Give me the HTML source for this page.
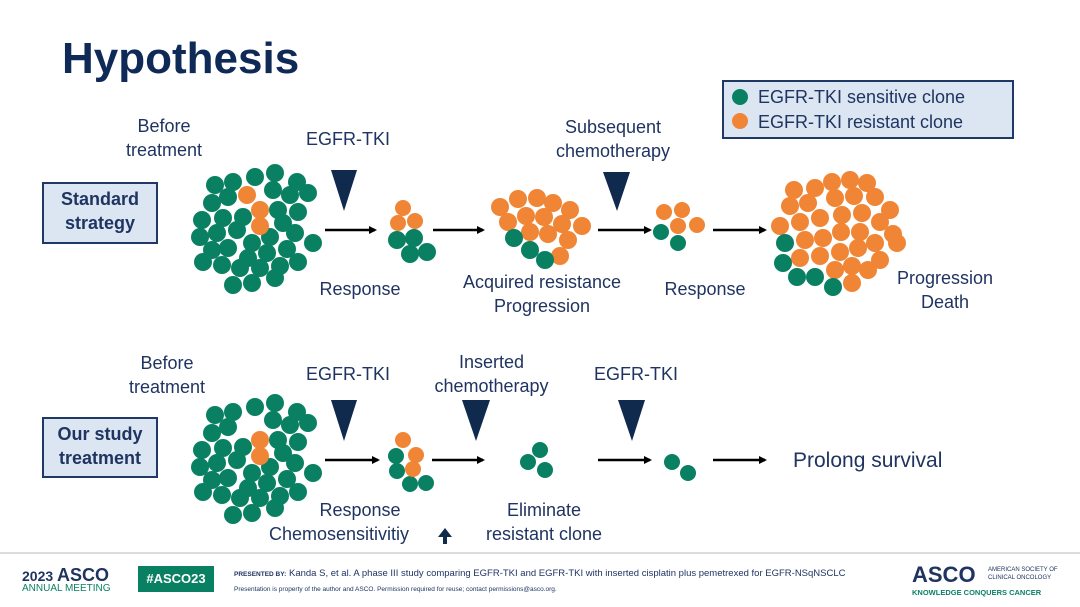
<!DOCTYPE html>
<html><head><meta charset="utf-8"><style>
body{margin:0;width:1080px;height:607px;background:#fff;overflow:hidden;position:relative;font-family:"Liberation Sans",Arial,sans-serif;color:#1f3461}
.t{position:absolute;font-size:18px;text-align:center;white-space:nowrap;line-height:24px}
.box{position:absolute;background:#dce6f2;border:2px solid #1f3864;font-weight:bold;font-size:18px;text-align:center;line-height:24px;color:#1f3461}
</style></head><body>
<div style="position:absolute;left:62px;top:34px;font-size:44px;font-weight:bold;color:#0f2a57">Hypothesis</div>

<div class="box" style="left:42px;top:182px;width:112px;height:55px;padding-top:3px">Standard<br>strategy</div>
<div class="box" style="left:42px;top:417px;width:112px;height:54px;padding-top:3px">Our study<br>treatment</div>

<div style="position:absolute;left:722px;top:80px;width:288px;height:55px;background:#dce6f2;border:2px solid #1f3864"></div>
<div class="t" style="left:758px;top:85px;text-align:left">EGFR-TKI sensitive clone</div>
<div class="t" style="left:758px;top:110px;text-align:left">EGFR-TKI resistant clone</div>

<div class="t" style="left:114px;top:114px;width:100px">Before<br>treatment</div>
<div class="t" style="left:298px;top:127px;width:100px">EGFR-TKI</div>
<div class="t" style="left:548px;top:115px;width:130px">Subsequent<br>chemotherapy</div>
<div class="t" style="left:305px;top:277px;width:110px">Response</div>
<div class="t" style="left:447px;top:270px;width:190px">Acquired resistance<br>Progression</div>
<div class="t" style="left:650px;top:277px;width:110px">Response</div>
<div class="t" style="left:880px;top:266px;width:130px">Progression<br>Death</div>

<div class="t" style="left:117px;top:351px;width:100px">Before<br>treatment</div>
<div class="t" style="left:298px;top:362px;width:100px">EGFR-TKI</div>
<div class="t" style="left:424px;top:350px;width:135px">Inserted<br>chemotherapy</div>
<div class="t" style="left:586px;top:362px;width:100px">EGFR-TKI</div>
<div class="t" style="left:793px;top:449px;text-align:left;font-size:21px">Prolong survival</div>
<div class="t" style="left:305px;top:498px;width:110px">Response</div>
<div class="t" style="left:269px;top:522px;text-align:left">Chemosensitivitiy</div>
<div class="t" style="left:469px;top:498px;width:150px">Eliminate<br>resistant clone</div>

<svg width="1080" height="607" style="position:absolute;left:0;top:0">
<defs><marker id="a" markerWidth="8" markerHeight="8" refX="6" refY="4" orient="auto" markerUnits="userSpaceOnUse"><path d="M0,0 L8,4 L0,8 z" fill="#000"/></marker></defs>
<g stroke="#000" stroke-width="2.5" marker-end="url(#a)">
<line x1="325" y1="230" x2="375" y2="230"/><line x1="433" y1="230" x2="483" y2="230"/><line x1="598" y1="230" x2="650" y2="230"/><line x1="713" y1="230" x2="765" y2="230"/>
<line x1="325" y1="460" x2="378" y2="460"/><line x1="432" y1="460" x2="483" y2="460"/><line x1="598" y1="460" x2="650" y2="460"/><line x1="713" y1="460" x2="765" y2="460"/>
</g>
<g fill="#0f2a4d">
<polygon points="331,170 357,170 344,211"/><polygon points="603,172 630,172 617,211"/>
<polygon points="331,400 357,400 344,441"/><polygon points="462,400 490,400 476,441"/><polygon points="618,400 645,400 632,441"/>
<polygon points="445,528 452,537 438,537"/><rect x="443" y="536" width="4" height="8"/>
</g>
<circle cx="740" cy="97" r="8" fill="#0a8063"/>
<circle cx="740" cy="121" r="8" fill="#ef8535"/>
<g id="c1" fill="#0a8063">
<circle cx="215" cy="185" r="9"/><circle cx="233" cy="182" r="9"/><circle cx="255" cy="177" r="9"/><circle cx="275" cy="173" r="9"/><circle cx="297" cy="182" r="9"/><circle cx="308" cy="193" r="9"/><circle cx="228" cy="197" r="9"/><circle cx="273" cy="190" r="9"/><circle cx="290" cy="195" r="9"/><circle cx="212" cy="203" r="9"/><circle cx="278" cy="210" r="9"/><circle cx="298" cy="212" r="9"/><circle cx="202" cy="220" r="9"/><circle cx="223" cy="218" r="9"/><circle cx="243" cy="217" r="9"/><circle cx="283" cy="223" r="9"/><circle cx="200" cy="237" r="9"/><circle cx="217" cy="233" r="9"/><circle cx="237" cy="230" r="9"/><circle cx="252" cy="243" r="9"/><circle cx="270" cy="237" r="9"/><circle cx="295" cy="233" r="9"/><circle cx="313" cy="243" r="9"/><circle cx="212" cy="250" r="9"/><circle cx="228" cy="248" r="9"/><circle cx="248" cy="258" r="9"/><circle cx="267" cy="253" r="9"/><circle cx="287" cy="249" r="9"/><circle cx="203" cy="262" r="9"/><circle cx="222" cy="265" r="9"/><circle cx="240" cy="268" r="9"/><circle cx="260" cy="268" r="9"/><circle cx="280" cy="266" r="9"/><circle cx="298" cy="262" r="9"/><circle cx="233" cy="285" r="9"/><circle cx="252" cy="283" r="9"/><circle cx="275" cy="278" r="9"/>
</g>
<use href="#c1" y="230"/>
<g fill="#ef8535"><circle cx="247" cy="195" r="9"/><circle cx="260" cy="210" r="9"/><circle cx="260" cy="226" r="9"/>
<circle cx="260" cy="440" r="9"/><circle cx="260" cy="456" r="9"/></g>
<g fill="#0a8063"><circle cx="397" cy="240" r="9"/><circle cx="414" cy="238" r="9"/><circle cx="410" cy="254" r="9"/><circle cx="427" cy="252" r="9"/></g>
<g fill="#ef8535"><circle cx="403" cy="208" r="8"/><circle cx="398" cy="223" r="8"/><circle cx="415" cy="221" r="8"/></g>
<g fill="#0a8063"><circle cx="396" cy="456" r="8"/><circle cx="397" cy="471" r="8"/><circle cx="410" cy="484" r="8"/><circle cx="426" cy="483" r="8"/></g>
<g fill="#ef8535"><circle cx="403" cy="440" r="8"/><circle cx="416" cy="455" r="8"/><circle cx="413" cy="469" r="8"/></g>
<g fill="#ef8535">
<circle cx="500" cy="207" r="9"/><circle cx="518" cy="199" r="9"/><circle cx="537" cy="198" r="9"/><circle cx="553" cy="203" r="9"/><circle cx="570" cy="210" r="9"/><circle cx="508" cy="222" r="9"/><circle cx="526" cy="216" r="9"/><circle cx="544" cy="217" r="9"/><circle cx="562" cy="224" r="9"/><circle cx="582" cy="226" r="9"/><circle cx="530" cy="232" r="9"/><circle cx="548" cy="234" r="9"/><circle cx="568" cy="240" r="9"/><circle cx="560" cy="256" r="9"/>
</g>
<g fill="#0a8063"><circle cx="514" cy="238" r="9"/><circle cx="530" cy="250" r="9"/><circle cx="545" cy="260" r="9"/></g>
<g fill="#ef8535"><circle cx="664" cy="212" r="8"/><circle cx="682" cy="210" r="8"/><circle cx="697" cy="225" r="8"/><circle cx="678" cy="226" r="8"/></g>
<g fill="#0a8063"><circle cx="661" cy="232" r="8"/><circle cx="678" cy="243" r="8"/></g>
<g fill="#ef8535">
<circle cx="794" cy="190" r="9"/><circle cx="815" cy="188" r="9"/><circle cx="832" cy="182" r="9"/><circle cx="850" cy="180" r="9"/><circle cx="867" cy="183" r="9"/><circle cx="790" cy="206" r="9"/><circle cx="808" cy="203" r="9"/><circle cx="835" cy="198" r="9"/><circle cx="854" cy="196" r="9"/><circle cx="875" cy="197" r="9"/><circle cx="890" cy="210" r="9"/><circle cx="780" cy="226" r="9"/><circle cx="800" cy="222" r="9"/><circle cx="820" cy="218" r="9"/><circle cx="842" cy="215" r="9"/><circle cx="862" cy="213" r="9"/><circle cx="880" cy="222" r="9"/><circle cx="893" cy="234" r="9"/><circle cx="805" cy="240" r="9"/><circle cx="823" cy="238" r="9"/><circle cx="841" cy="232" r="9"/><circle cx="860" cy="232" r="9"/><circle cx="875" cy="243" r="9"/><circle cx="897" cy="243" r="9"/><circle cx="800" cy="258" r="9"/><circle cx="820" cy="256" r="9"/><circle cx="840" cy="252" r="9"/><circle cx="858" cy="248" r="9"/><circle cx="880" cy="260" r="9"/><circle cx="835" cy="270" r="9"/><circle cx="852" cy="266" r="9"/><circle cx="868" cy="270" r="9"/><circle cx="852" cy="283" r="9"/>
</g>
<g fill="#0a8063"><circle cx="785" cy="243" r="9"/><circle cx="783" cy="263" r="9"/><circle cx="797" cy="277" r="9"/><circle cx="815" cy="277" r="9"/><circle cx="833" cy="287" r="9"/></g>
<g fill="#0a8063"><circle cx="540" cy="450" r="8"/><circle cx="528" cy="462" r="8"/><circle cx="545" cy="470" r="8"/><circle cx="672" cy="462" r="8"/><circle cx="688" cy="473" r="8"/></g>
<line x1="0" y1="553" x2="1080" y2="553" stroke="#d0d0d0" stroke-width="1.5"/>
</svg>

<div style="position:absolute;left:22px;top:565px;font-size:14px;font-weight:bold;color:#1f3461">2023 <span style="font-size:18px">ASCO</span></div>
<div style="position:absolute;left:22px;top:583px;font-size:10px;color:#0a8063">ANNUAL MEETING</div>
<div style="position:absolute;left:138px;top:566px;width:76px;height:26px;background:#0a8063;color:#fff;font-weight:bold;font-size:13px;line-height:26px;text-align:center">#ASCO23</div>
<div style="position:absolute;left:234px;top:571px;font-size:6.5px;font-weight:bold;color:#1f3461">PRESENTED BY:</div>
<div style="position:absolute;left:289px;top:568px;font-size:9.5px;color:#1f3461">Kanda S, et al. A phase III study comparing EGFR-TKI and EGFR-TKI with inserted cisplatin plus pemetrexed for EGFR-NSqNSCLC</div>
<div style="position:absolute;left:234px;top:586px;font-size:6.5px;color:#1f3461">Presentation is property of the author and ASCO. Permission required for reuse; contact permissions@asco.org.</div>
<div style="position:absolute;left:912px;top:562px;font-size:22px;font-weight:bold;color:#1f3461">ASCO</div>
<div style="position:absolute;left:988px;top:566px;font-size:6px;color:#1f3461;line-height:8px">AMERICAN SOCIETY OF<br>CLINICAL ONCOLOGY</div>
<div style="position:absolute;left:912px;top:588px;font-size:7.5px;font-weight:bold;color:#0a8063">KNOWLEDGE CONQUERS CANCER</div>
</body></html>
